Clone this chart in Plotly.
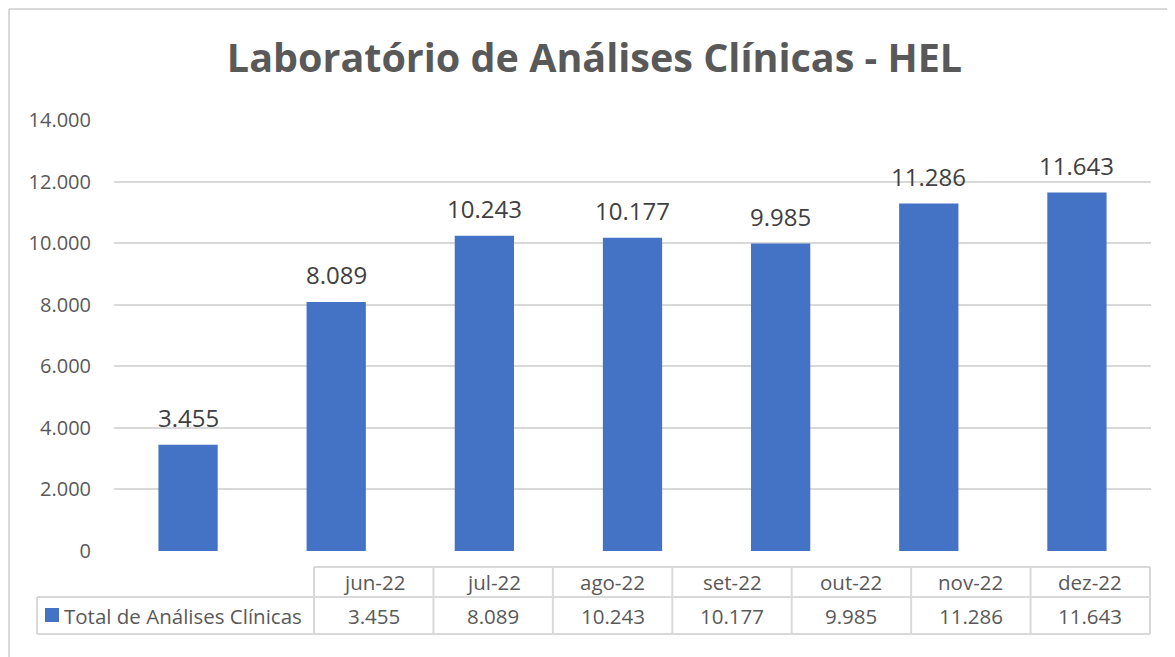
import plotly.graph_objects as go

categories = ["jun-22", "jul-22", "ago-22", "set-22", "out-22", "nov-22", "dez-22"]
values = [3455, 8089, 10243, 10177, 9985, 11286, 11643]
series_name = "Total de Análises Clínicas"
title_text = "Laboratório de Análises Clínicas - HEL"
tick_vals = [0, 2000, 4000, 6000, 8000, 10000, 12000, 14000]

OFF = 8  # browser body margin
W, H = 1175 - OFF, 657 - OFF
L, R, T, B = 114 - OFF, 1151 - OFF, 120 - OFF, 551 - OFF  # plot area in pixels

def fmt(v):
    return f"{v:,}".replace(",", ".")

def px(x):
    return (x - OFF - L) / (R - L)

def py(y):
    return (B - (y - OFF)) / (B - T)

BLUE = "#4472C4"
GRID = "#D9D9D9"
TXT = "#595959"
FONT = "Open Sans"

fig = go.Figure()
fig.add_trace(go.Bar(
    x=categories, y=values, name=series_name,
    marker=dict(color=BLUE, line=dict(width=0)),
    width=0.4,
))

shapes = []
annotations = []

# data labels
for c, v in zip(categories, values):
    annotations.append(dict(x=c, y=v, xref="x", yref="y", text=fmt(v), showarrow=False,
                            xanchor="center", yanchor="bottom", yshift=9,
                            font=dict(family=FONT, size=24, color="#404040")))

# outer chart border
shapes.append(dict(type="line", xref="paper", yref="paper",
                   x0=px(9), x1=px(1180), y0=py(9), y1=py(9),
                   line=dict(color=GRID, width=2)))
shapes.append(dict(type="line", xref="paper", yref="paper",
                   x0=px(9), x1=px(9), y0=py(9), y1=py(662),
                   line=dict(color=GRID, width=2)))

# data table
col_left = 314
col_w = (1150 - 314) / len(categories)
top_h, mid_h, bot_h = 567, 597, 634
lc = "#D9D9D9"
shapes.append(dict(type="line", xref="paper", yref="paper", x0=px(col_left), x1=px(1150),
                   y0=py(top_h), y1=py(top_h), line=dict(color=lc, width=2)))
for yy in (mid_h, bot_h):
    shapes.append(dict(type="line", xref="paper", yref="paper", x0=px(37), x1=px(1150),
                       y0=py(yy), y1=py(yy), line=dict(color=lc, width=2)))
shapes.append(dict(type="line", xref="paper", yref="paper", x0=px(37), x1=px(37),
                   y0=py(mid_h), y1=py(bot_h), line=dict(color=lc, width=2)))
for i in range(len(categories) + 1):
    xx = col_left + i * col_w
    shapes.append(dict(type="line", xref="paper", yref="paper", x0=px(xx), x1=px(xx),
                       y0=py(top_h), y1=py(bot_h), line=dict(color=lc, width=2)))
for i, (c, v) in enumerate(zip(categories, values)):
    xc = col_left + (i + 0.5) * col_w
    annotations.append(dict(xref="paper", yref="paper", x=px(xc), y=py((top_h + mid_h) / 2),
                            text=c, showarrow=False, xanchor="center", yanchor="middle",
                            font=dict(family=FONT, size=20.5, color=TXT)))
    annotations.append(dict(xref="paper", yref="paper", x=px(xc), y=py((mid_h + bot_h) / 2),
                            text=fmt(v), showarrow=False, xanchor="center", yanchor="middle",
                            font=dict(family=FONT, size=20.5, color=TXT)))
# legend key
shapes.append(dict(type="rect", xref="paper", yref="paper", x0=px(45), x1=px(59),
                   y0=py(608), y1=py(622), fillcolor=BLUE, line=dict(width=0)))
annotations.append(dict(xref="paper", yref="paper", x=px(62), y=py((mid_h + bot_h) / 2),
                        text=series_name, showarrow=False, xanchor="left", yanchor="middle",
                        font=dict(family=FONT, size=20.5, color=TXT)))

fig.update_layout(
    width=W, height=H,
    margin=dict(l=L, r=W - R, t=T, b=H - B),
    paper_bgcolor="white", plot_bgcolor="white",
    showlegend=False,
    title=dict(text="<b>" + title_text + "</b>", x=(594.5 - OFF) / W, xref="container",
               xanchor="center", y=1 - (58 - OFF) / H, yanchor="middle",
               font=dict(family=FONT, size=39.5, color=TXT)),
    xaxis=dict(showticklabels=False, showgrid=False, zeroline=False, showline=False,
               ticks=""),
    yaxis=dict(range=[0, 14000], tickvals=tick_vals, ticktext=[fmt(t) for t in tick_vals],
               showgrid=True, gridcolor=GRID, gridwidth=1.5, zeroline=False,
               showline=False, ticks="", ticklabelstandoff=22,
               tickfont=dict(family=FONT, size=20, color=TXT)),
    shapes=shapes, annotations=annotations,
)
fig.write_html("out.html")
